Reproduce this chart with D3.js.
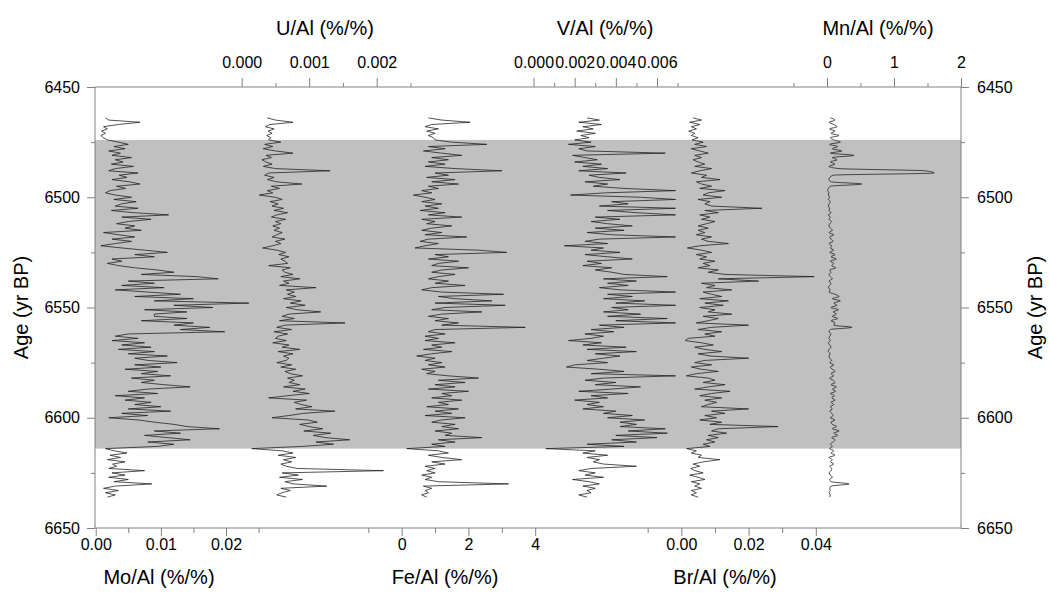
<!DOCTYPE html>
<html>
<head>
<meta charset="utf-8">
<script src="https://cdn.jsdelivr.net/npm/d3@7"></script>
<style>
    body { margin: 0; background: #fff; }
    svg { font-family: Arial, "Liberation Sans", sans-serif; }
    .axis text { font-family: Arial, "Liberation Sans", sans-serif; font-size: 16px; fill: #000; }
    .axis line { stroke: #808080; }
    .title { font-size: 20px; fill: #000; }
    .series { fill: none; stroke: #1a1a1a; stroke-width: 0.75; }
</style>
</head>
<body>
<div id="chart"></div>
<script>
// sample ages (yr BP), shared by every curve
const ages = [
    6464, 6465, 6466, 6467, 6468, 6469, 6470, 6471, 6472, 6473,
    6474, 6475, 6476, 6477, 6478, 6479, 6480, 6481, 6482, 6483,
    6484, 6485, 6486, 6487, 6488, 6489, 6490, 6491, 6492, 6493,
    6494, 6495, 6496, 6497, 6498, 6499, 6500, 6501, 6502, 6503,
    6504, 6505, 6506, 6507, 6508, 6509, 6510, 6511, 6512, 6513,
    6514, 6515, 6516, 6517, 6518, 6519, 6520, 6521, 6522, 6523,
    6524, 6525, 6526, 6527, 6528, 6529, 6530, 6531, 6532, 6533,
    6534, 6535, 6536, 6537, 6538, 6539, 6540, 6541, 6542, 6543,
    6544, 6545, 6546, 6547, 6548, 6549, 6550, 6551, 6552, 6553,
    6554, 6555, 6556, 6557, 6558, 6559, 6560, 6561, 6562, 6563,
    6564, 6565, 6566, 6567, 6568, 6569, 6570, 6571, 6572, 6573,
    6574, 6575, 6576, 6577, 6578, 6579, 6580, 6581, 6582, 6583,
    6584, 6585, 6586, 6587, 6588, 6589, 6590, 6591, 6592, 6593,
    6594, 6595, 6596, 6597, 6598, 6599, 6600, 6601, 6602, 6603,
    6604, 6605, 6606, 6607, 6608, 6609, 6610, 6611, 6612, 6613,
    6614, 6615, 6616, 6617, 6618, 6619, 6620, 6621, 6622, 6623,
    6624, 6625, 6626, 6627, 6628, 6629, 6630, 6631, 6632, 6633,
    6634, 6635, 6636
];

const moAl = [
    .0015, .0020, .0068, .0035, .0012, .0018, .0009, .0015, .0008, .0012,
    .0018, .0035, .0050, .0028, .0045, .0020, .0038, .0025, .0055, .0030,
    .0042, .0024, .0058, .0030, .0020, .0065, .0036, .0048, .0025, .0052,
    .0068, .0032, .0046, .0022, .0015, .0030, .0055, .0028, .0062, .0040,
    .0030, .0065, .0024, .0058, .0112, .0040, .0085, .0050, .0032, .0060,
    .0045, .0070, .0012, .0035, .0060, .0025, .0055, .0030, .0008, .0040,
    .0075, .0110, .0060, .0090, .0025, .0040, .0018, .0035, .0060, .0095,
    .0120, .0070, .0155, .0188, .0050, .0090, .0040, .0105, .0030, .0080,
    .0130, .0060, .0150, .0090, .0235, .0120, .0180, .0075, .0140, .0090,
    .0090, .0140, .0070, .0150, .0120, .0175, .0130, .0198, .0050, .0030,
    .0065, .0025, .0075, .0040, .0085, .0035, .0090, .0050, .0110, .0060,
    .0080, .0125, .0060, .0100, .0045, .0095, .0070, .0115, .0055, .0090,
    .0070, .0105, .0145, .0080, .0050, .0095, .0030, .0075, .0045, .0085,
    .0060, .0100, .0050, .0115, .0040, .0080, .0020, .0065, .0090, .0120,
    .0140, .0190, .0090, .0130, .0075, .0110, .0145, .0080, .0120, .0095,
    .0015, .0028, .0048, .0022, .0038, .0018, .0045, .0026, .0032, .0020,
    .0075, .0025, .0045, .0020, .0050, .0028, .0086, .0030, .0012, .0035,
    .0015, .0030, .0018
];

const uAl = [
    .00038, .00050, .00076, .00042, .00035, .00048, .00039, .00045, .00037, .00043,
    .00040, .00058, .00034, .00046, .00032, .00050, .00076, .00036, .00044, .00030,
    .00036, .00045, .00032, .00050, .00131, .00040, .00034, .00048, .00038, .00052,
    .00089, .00044, .00056, .00038, .00046, .00026, .00050, .00060, .00042, .00054,
    .00045, .00062, .00048, .00068, .00052, .00044, .00065, .00050, .00058, .00046,
    .00056, .00048, .00060, .00052, .00045, .00064, .00050, .00058, .00046, .00031,
    .00052, .00065, .00055, .00070, .00058, .00064, .00068, .00040, .00072, .00060,
    .00064, .00076, .00058, .00086, .00062, .00070, .00056, .00110, .00066, .00078,
    .00068, .00080, .00062, .00088, .00072, .00094, .00066, .00082, .00117, .00070,
    .00060, .00078, .00056, .00153, .00064, .00052, .00074, .00048, .00068, .00054,
    .00050, .00066, .00046, .00070, .00060, .00086, .00054, .00076, .00062, .00070,
    .00066, .00052, .00074, .00058, .00080, .00064, .00072, .00090, .00068, .00078,
    .00070, .00086, .00062, .00094, .00076, .00100, .00068, .00040, .00096, .00078,
    .00088, .00104, .00080, .00138, .00092, .00070, .00045, .00098, .00112, .00086,
    .00100, .00120, .00092, .00132, .00106, .00124, .00160, .00110, .00136, .00090,
    .00015, .00060, .00076, .00054, .00080, .00062, .00074, .00058, .00066, .00082,
    .00210, .00060, .00084, .00056, .00090, .00064, .00076, .00126, .00058, .00072,
    .00060, .00052, .00066
];

const feAl = [
    0.80, 1.20, 2.05, 0.90, 0.70, 1.10, 0.75, 1.00, 0.80, 0.95,
    1.00, 1.50, 2.55, 0.80, 1.30, 0.65, 1.20, 1.80, 0.90, 1.40,
    0.80, 1.30, 0.70, 1.60, 3.00, 1.00, 1.40, 0.75, 1.60, 0.90,
    1.70, 0.80, 1.10, 0.60, 0.90, 0.35, 0.70, 1.00, 0.60, 1.20,
    0.70, 1.10, 0.55, 1.30, 0.80, 1.80, 0.60, 1.00, 0.75, 1.50,
    0.90, 0.60, 1.20, 0.70, 1.95, 0.80, 0.55, 1.10, 0.70, 0.40,
    2.30, 3.15, 1.00, 1.40, 0.80, 1.70, 1.10, 0.90, 2.00, 1.20,
    0.90, 1.60, 1.10, 0.80, 1.40, 1.00, 1.90, 0.90, 0.60, 1.20,
    3.05, 1.10, 1.60, 2.70, 1.00, 3.10, 1.30, 0.90, 2.40, 1.20,
    0.80, 1.40, 1.00, 1.70, 1.20, 3.70, 1.00, 0.80, 1.30, 0.70,
    1.10, 0.70, 1.60, 0.90, 1.20, 0.65, 1.50, 0.90, 0.45, 1.00,
    0.70, 1.20, 0.80, 1.30, 0.60, 1.00, 0.75, 1.40, 2.30, 1.10,
    1.90, 1.00, 1.60, 0.80, 2.00, 1.20, 1.50, 0.90, 1.80, 1.10,
    1.40, 0.75, 1.70, 1.00, 1.50, 0.70, 1.90, 1.20, 0.90, 1.60,
    1.20, 1.70, 1.00, 1.50, 1.30, 2.40, 1.10, 1.60, 0.90, 1.30,
    0.15, 1.10, 1.40, 0.80, 1.20, 1.80, 0.90, 1.30, 0.70, 1.00,
    0.75, 1.00, 0.60, 0.90, 0.70, 1.10, 3.20, 0.65, 0.90, 0.70,
    0.80, 0.60, 0.75
];

const vAl = [
    .0026, .0032, .0022, .0033, .0024, .0029, .0021, .0030, .0023, .0027,
    .0020, .0028, .0017, .0030, .0022, .0026, .0064, .0019, .0025, .0031,
    .0020, .0033, .0024, .0036, .0022, .0045, .0027, .0032, .0042, .0025,
    .0036, .0029, .0044, .0069, .0035, .0018, .0052, .0069, .0038, .0046,
    .0032, .0069, .0036, .0050, .0069, .0030, .0042, .0028, .0036, .0048,
    .0030, .0044, .0026, .0038, .0069, .0032, .0025, .0036, .0015, .0034,
    .0028, .0042, .0025, .0036, .0048, .0026, .0033, .0024, .0038, .0030,
    .0038, .0044, .0065, .0034, .0050, .0036, .0046, .0032, .0042, .0069,
    .0036, .0048, .0034, .0054, .0040, .0069, .0038, .0046, .0034, .0052,
    .0036, .0065, .0040, .0069, .0032, .0044, .0028, .0039, .0025, .0034,
    .0028, .0017, .0033, .0024, .0045, .0026, .0050, .0030, .0042, .0034,
    .0026, .0036, .0020, .0016, .0032, .0044, .0028, .0069, .0034, .0025,
    .0040, .0030, .0052, .0038, .0022, .0046, .0028, .0036, .0020, .0032,
    .0026, .0034, .0024, .0040, .0034, .0048, .0036, .0054, .0042, .0050,
    .0042, .0064, .0046, .0065, .0040, .0060, .0038, .0050, .0026, .0044,
    .0006, .0030, .0024, .0036, .0026, .0032, .0029, .0034, .0050, .0028,
    .0022, .0030, .0025, .0034, .0019, .0027, .0032, .0024, .0030, .0026,
    .0028, .0022, .0026
];

const brAl = [
    .0035, .0060, .0025, .0055, .0030, .0045, .0022, .0040, .0030, .0050,
    .0032, .0065, .0040, .0075, .0030, .0055, .0080, .0040, .0060, .0035,
    .0050, .0070, .0040, .0090, .0055, .0030, .0075, .0060, .0115, .0045,
    .0060, .0090, .0055, .0130, .0080, .0065, .0120, .0050, .0085, .0070,
    .0090, .0240, .0070, .0110, .0055, .0085, .0060, .0100, .0075, .0050,
    .0080, .0050, .0070, .0045, .0090, .0060, .0080, .0140, .0055, .0018,
    .0060, .0090, .0045, .0075, .0055, .0100, .0065, .0085, .0050, .0110,
    .0080, .0130, .0395, .0110, .0230, .0060, .0100, .0075, .0150, .0065,
    .0090, .0120, .0055, .0140, .0070, .0125, .0055, .0100, .0080, .0150,
    .0065, .0110, .0080, .0045, .0200, .0090, .0050, .0120, .0070, .0100,
    .0020, .0012, .0060, .0095, .0040, .0070, .0120, .0050, .0085, .0200,
    .0070, .0040, .0090, .0030, .0060, .0110, .0045, .0015, .0080, .0100,
    .0065, .0130, .0080, .0040, .0145, .0090, .0055, .0120, .0070, .0105,
    .0080, .0060, .0200, .0090, .0130, .0070, .0105, .0055, .0120, .0085,
    .0288, .0110, .0090, .0135, .0080, .0110, .0075, .0100, .0065, .0085,
    .0016, .0045, .0030, .0060, .0050, .0115, .0065, .0035, .0055, .0028,
    .0040, .0065, .0025, .0050, .0070, .0030, .0055, .0040, .0060, .0030,
    .0045, .0030, .0050
];

const mnAl = [
    0.05, 0.12, 0.03, 0.10, 0.15, 0.04, 0.12, 0.06, 0.18, 0.05,
    0.10, 0.20, 0.04, 0.16, 0.08, 0.22, 0.05, 0.40, 0.08, 0.15,
    0.05, 0.12, 0.03, 0.18, 1.45, 1.60, 0.10, 0.04, 0.03, 0.06,
    0.52, 0.05, 0.02, 0.01, 0.03, 0.02, 0.04, 0.02, 0.05, 0.03,
    0.02, 0.04, 0.03, 0.06, 0.02, 0.05, 0.03, 0.07, 0.04, 0.03,
    0.05, 0.08, 0.03, 0.10, 0.04, 0.06, 0.09, 0.03, 0.07, 0.05,
    0.10, 0.04, 0.12, 0.06, 0.14, 0.05, 0.10, 0.07, 0.13, 0.04,
    0.06, 0.03, 0.05, 0.08, 0.03, 0.06, 0.04, 0.02, 0.05, 0.03,
    0.12, 0.18, 0.08, 0.20, 0.10, 0.15, 0.06, 0.17, 0.09, 0.14,
    0.08, 0.16, 0.06, 0.12, 0.10, 0.37, 0.05, 0.03, 0.06, 0.04,
    0.03, 0.05, 0.02, 0.04, 0.06, 0.03, 0.02, 0.05, 0.03, 0.04,
    0.07, 0.04, 0.10, 0.05, 0.08, 0.12, 0.06, 0.10, 0.04, 0.09,
    0.12, 0.06, 0.14, 0.08, 0.13, 0.05, 0.11, 0.07, 0.12, 0.06,
    0.10, 0.05, 0.08, 0.04, 0.07, 0.09, 0.05, 0.12, 0.06, 0.08,
    0.14, 0.08, 0.18, 0.10, 0.16, 0.07, 0.12, 0.09, 0.05, 0.08,
    0.04, 0.10, 0.06, 0.12, 0.03, 0.08, 0.05, 0.10, 0.04, 0.07,
    0.06, 0.03, 0.05, 0.08, 0.04, 0.06, 0.33, 0.06, 0.04, 0.05,
    0.03, 0.05, 0.04
];

// shaded interval (yr BP)
const shadeAges = [6474, 6614];
const ageTicks = [6450, 6500, 6550, 6600, 6650];
const ageMinorTicks = [6475, 6525, 6575, 6625];

const width = 1049, height = 596;
const frame = {left: 95, right: 961, top: 87, bottom: 528};

// one entry per curve; x placement of each panel inside the shared frame
const panels = [
    {values: moAl, title: "Mo/Al (%/%)", side: "bottom", domain: [0, 0.02], range: [95.7, 226],
     ticks: [0, 0.01, 0.02], minor: [0.005, 0.015, 0.025], fmt: ".2f", titleX: 159},
    {values: uAl, title: "U/Al (%/%)", side: "top", domain: [0, 0.002], range: [241.7, 376.7],
     ticks: [0, 0.001, 0.002], minor: [0.0005, 0.0015, 0.0025], fmt: ".3f", titleX: 325},
    {values: feAl, title: "Fe/Al (%/%)", side: "bottom", domain: [0, 4], range: [401.7, 535.2],
     ticks: [0, 2, 4], minor: [-1, 1, 3], fmt: "d", titleX: 445},
    {values: vAl, title: "V/Al (%/%)", side: "top", domain: [0, 0.006], range: [533.5, 657],
     ticks: [0, 0.002, 0.004, 0.006], minor: [0.001, 0.003, 0.005, 0.007], fmt: ".3f", titleX: 605},
    {values: brAl, title: "Br/Al (%/%)", side: "bottom", domain: [0, 0.04], range: [681.3, 815.8],
     ticks: [0, 0.02, 0.04], minor: [-0.01, 0.01, 0.03], fmt: ".2f", titleX: 725},
    {values: mnAl, title: "Mn/Al (%/%)", side: "top", domain: [0, 2], range: [827, 961],
     ticks: [0, 1, 2], minor: [-0.5, 0.5, 1.5], fmt: "d", titleX: 878, smooth: true}
];

const svg = d3.select("#chart").append("svg")
    .attr("width", width)
    .attr("height", height);

const y = d3.scaleLinear()
    .domain([6450, 6650])
    .range([frame.top, frame.bottom]);

svg.append("rect")
    .attr("x", frame.left)
    .attr("y", y(shadeAges[0]))
    .attr("width", frame.right - frame.left)
    .attr("height", y(shadeAges[1]) - y(shadeAges[0]))
    .attr("fill", "#c0c0c0");

function renderAxis(axisFn, scale, transform, major, minor, fmt, majorLen, minorLen, pad) {
    const g = svg.append("g")
        .attr("class", "axis")
        .attr("transform", transform);
    g.call(axisFn(scale).tickValues(major).tickSize(majorLen).tickPadding(pad).tickFormat(fmt));
    g.append("g").call(axisFn(scale).tickValues(minor).tickSize(minorLen).tickFormat(""));
    g.selectAll(".domain").remove();
}

// age axes on both sides
renderAxis(d3.axisLeft, y, `translate(${frame.left},0)`, ageTicks, ageMinorTicks, d3.format("d"), 8, 4, 7);
renderAxis(d3.axisRight, y, `translate(${frame.right},0)`, ageTicks, ageMinorTicks, d3.format("d"), 8, 4, 8);

panels.forEach(p => {
    const x = d3.scaleLinear().domain(p.domain).range(p.range);
    const top = p.side === "top";
    renderAxis(top ? d3.axisTop : d3.axisBottom, x,
        `translate(0,${top ? frame.top : frame.bottom})`,
        p.ticks, p.minor, d3.format(p.fmt), top ? 9 : 8, top ? 4 : 5, top ? 10 : 3);

    svg.append("text")
        .attr("class", "title")
        .attr("x", p.titleX)
        .attr("y", top ? 34.5 : 583.5)
        .attr("text-anchor", "middle")
        .text(p.title);

    // Mn is drawn as a smooth trace in the original, the rest as straight segments
    const line = d3.line()
        .x(d => x(d))
        .y((d, i) => y(ages[i]))
        .curve(p.smooth ? d3.curveMonotoneY : d3.curveLinear);

    svg.append("path")
        .datum(p.values)
        .attr("class", "series")
        .attr("d", line);
});

// frame
const border = svg.append("g")
    .attr("stroke", "#808080")
    .attr("stroke-width", 1);
border.append("line").attr("x1", frame.left).attr("x2", frame.right).attr("y1", frame.top).attr("y2", frame.top);
border.append("line").attr("x1", frame.left).attr("x2", frame.right).attr("y1", frame.bottom).attr("y2", frame.bottom);
border.append("line").attr("x1", frame.left).attr("x2", frame.left).attr("y1", frame.top).attr("y2", frame.bottom);
border.append("line").attr("x1", frame.right).attr("x2", frame.right).attr("y1", frame.top).attr("y2", frame.bottom);

svg.append("text")
    .attr("class", "title")
    .attr("transform", `translate(28,${(frame.top + frame.bottom) / 2}) rotate(-90)`)
    .attr("text-anchor", "middle")
    .text("Age (yr BP)");

svg.append("text")
    .attr("class", "title")
    .attr("transform", `translate(1042,${(frame.top + frame.bottom) / 2}) rotate(-90)`)
    .attr("text-anchor", "middle")
    .text("Age (yr BP)");
</script>
</body>
</html>
